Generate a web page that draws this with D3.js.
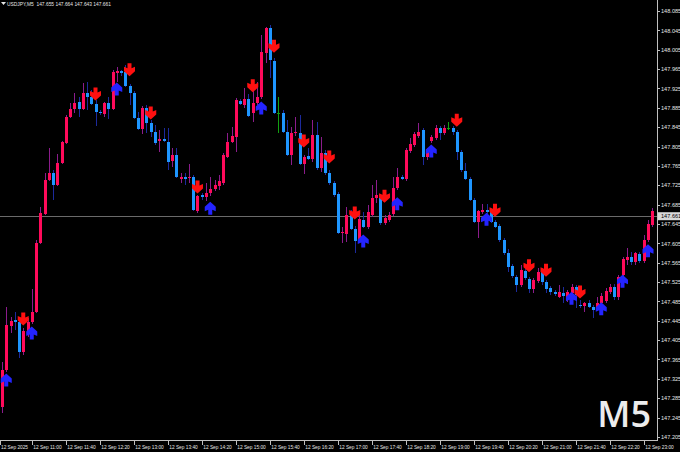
<!DOCTYPE html>
<html><head><meta charset="utf-8">
<script src="https://cdn.jsdelivr.net/npm/d3@7"></script>
<style>html,body{margin:0;padding:0;background:#000;overflow:hidden}</style>
</head><body>
<svg id="c" width="680" height="452"></svg>
<script>
const symbolInfo = "USDJPY,M5";
const headerValues = ["147.655", "147.664", "147.643", "147.661"];
const timeframe = "M5";
const bidPrice = 147.661;

const opens = [
147.267,147.343,147.434,147.446,147.442,147.380,147.422,147.442,147.463,147.606,
147.666,147.736,147.750,147.725,147.771,147.812,147.866,147.883,147.897,147.883,
147.916,147.907,147.893,147.876,147.872,147.895,147.883,147.957,147.960,147.959,
147.930,147.916,147.864,147.841,147.885,147.854,147.835,147.816,147.821,147.814,
147.775,147.787,147.738,147.742,147.740,147.742,147.672,147.705,147.701,147.709,
147.717,147.723,147.730,147.783,147.814,147.825,147.899,147.891,147.903,147.874,
147.895,147.907,147.998,148.050,147.982,147.874,147.874,147.835,147.787,147.833,
147.833,147.769,147.785,147.779,147.829,147.761,147.792,147.750,147.730,147.707,
147.626,147.624,147.664,147.635,147.610,147.653,147.639,147.664,147.699,147.699,
147.647,147.653,147.666,147.719,147.742,147.738,147.796,147.808,147.827,147.839,
147.783,147.816,147.823,147.843,147.833,147.843,147.843,147.835,147.794,147.754,
147.738,147.695,147.649,147.670,147.674,147.670,147.649,147.641,147.612,147.585,
147.558,147.535,147.519,147.548,147.531,147.511,147.527,147.546,147.525,147.513,
147.504,147.494,147.502,147.488,147.502,147.515,147.478,147.476,147.482,147.473,
147.473,147.482,147.486,147.504,147.515,147.494,147.539,147.571,147.577,147.566,
147.583,147.569,147.612,147.643];
const highs = [
147.360,147.473,147.453,147.463,147.446,147.430,147.451,147.511,147.612,147.680,
147.750,147.802,147.756,147.789,147.816,147.870,147.895,147.916,147.907,147.936,
147.938,147.922,147.901,147.880,147.897,147.907,147.963,147.969,147.963,147.973,
147.934,147.920,147.876,147.889,147.891,147.860,147.850,147.839,147.843,147.843,
147.802,147.802,147.750,147.750,147.769,147.746,147.705,147.709,147.730,147.742,
147.736,147.746,147.792,147.833,147.845,147.905,147.903,147.926,147.913,147.926,
147.938,148.035,148.052,148.056,147.988,147.907,147.880,147.860,147.845,147.866,
147.870,147.787,147.802,147.860,147.856,147.825,147.798,147.756,147.734,147.711,
147.639,147.680,147.674,147.641,147.670,147.670,147.684,147.725,147.736,147.705,
147.664,147.670,147.742,147.761,147.746,147.802,147.823,147.835,147.854,147.843,
147.802,147.829,147.849,147.847,147.849,147.856,147.847,147.839,147.798,147.771,
147.742,147.699,147.674,147.686,147.686,147.674,147.653,147.645,147.616,147.593,
147.562,147.539,147.560,147.556,147.535,147.533,147.554,147.554,147.529,147.517,
147.508,147.519,147.515,147.508,147.521,147.519,147.488,147.484,147.488,147.478,
147.494,147.502,147.513,147.521,147.521,147.539,147.577,147.595,147.587,147.587,
147.587,147.622,147.653,147.678];
const lows = [
147.254,147.339,147.420,147.426,147.368,147.374,147.411,147.438,147.461,147.604,
147.664,147.734,147.695,147.723,147.769,147.810,147.864,147.874,147.866,147.880,
147.880,147.891,147.847,147.870,147.866,147.862,147.880,147.938,147.950,147.928,
147.891,147.862,147.839,147.831,147.833,147.825,147.808,147.794,147.814,147.756,
147.763,147.740,147.730,147.725,147.730,147.672,147.667,147.695,147.692,147.703,
147.713,147.715,147.725,147.781,147.812,147.794,147.891,147.885,147.866,147.856,
147.891,147.903,147.978,147.947,147.872,147.833,147.833,147.785,147.767,147.827,
147.767,147.748,147.777,147.773,147.756,147.752,147.746,147.725,147.701,147.624,
147.606,147.608,147.632,147.585,147.606,147.637,147.635,147.659,147.688,147.643,
147.643,147.649,147.661,147.715,147.736,147.734,147.792,147.804,147.823,147.767,
147.777,147.812,147.818,147.818,147.829,147.839,147.829,147.777,147.752,147.736,
147.692,147.647,147.616,147.666,147.666,147.647,147.637,147.608,147.581,147.546,
147.533,147.504,147.515,147.529,147.502,147.502,147.523,147.519,147.502,147.498,
147.496,147.492,147.482,147.484,147.496,147.471,147.471,147.463,147.471,147.451,
147.467,147.478,147.482,147.500,147.488,147.488,147.533,147.560,147.560,147.560,
147.564,147.564,147.608,147.639];
const closes = [
147.343,147.436,147.444,147.442,147.380,147.424,147.442,147.463,147.606,147.667,
147.736,147.750,147.725,147.771,147.814,147.866,147.883,147.895,147.883,147.916,
147.907,147.893,147.876,147.874,147.895,147.883,147.959,147.960,147.957,147.930,
147.916,147.864,147.841,147.885,147.854,147.835,147.812,147.821,147.816,147.773,
147.787,147.742,147.742,147.738,147.742,147.674,147.703,147.701,147.709,147.717,
147.725,147.734,147.787,147.814,147.827,147.901,147.893,147.903,147.868,147.895,
147.907,148.000,148.050,147.984,147.874,147.874,147.835,147.787,147.833,147.835,
147.769,147.783,147.779,147.829,147.761,147.792,147.750,147.730,147.705,147.626,
147.628,147.664,147.635,147.610,147.655,147.639,147.670,147.699,147.705,147.647,
147.657,147.664,147.719,147.742,147.738,147.798,147.810,147.831,147.835,147.783,
147.798,147.825,147.843,147.833,147.843,147.843,147.835,147.794,147.756,147.738,
147.695,147.649,147.672,147.674,147.670,147.649,147.639,147.612,147.585,147.556,
147.537,147.519,147.550,147.533,147.511,147.529,147.546,147.525,147.511,147.504,
147.500,147.504,147.496,147.504,147.515,147.498,147.476,147.482,147.473,147.467,
147.482,147.496,147.506,147.515,147.494,147.535,147.573,147.577,147.566,147.585,
147.569,147.612,147.645,147.672];

const sellIdx   = [5, 22, 30, 35, 46, 59, 64, 71, 77, 83, 90, 107, 116, 124, 128, 136];
const sellPrice = [147.436,147.901,147.951,147.862,147.709,147.918,148.000,147.804,147.771,147.655,147.690,147.847,147.661,147.546,147.537,147.492];
const buyIdx    = [1, 7, 27, 49, 61, 85, 93, 101, 114, 134, 141, 146, 152];
const buyPrice  = [147.335,147.432,147.936,147.690,147.897,147.622,147.699,147.808,147.667,147.504,147.482,147.539,147.602];

const priceTicks = ["148.085","148.045","148.005","147.965","147.925","147.885","147.845","147.805",
  "147.765","147.725","147.685","147.645","147.605","147.565","147.525","147.485","147.445",
  "147.405","147.365","147.325","147.285","147.245","147.205"];
const timeTickIdx = [0,7,15,23,31,39,47,55,63,71,79,87,95,103,111,119,127,135,143,151];
const timeTickLabels = ["12 Sep 2025","12 Sep 11:00","12 Sep 11:40","12 Sep 12:20","12 Sep 13:00",
  "12 Sep 13:40","12 Sep 14:20","12 Sep 15:00","12 Sep 15:40","12 Sep 16:20","12 Sep 17:00",
  "12 Sep 17:40","12 Sep 18:20","12 Sep 19:00","12 Sep 19:40","12 Sep 20:20","12 Sep 21:00",
  "12 Sep 21:40","12 Sep 22:20","12 Sep 23:00"];

const W = 680, Hh = 452, plotR = 657, plotB = 440;
const svg = d3.select("#c");
svg.append("rect").attr("width", W).attr("height", Hh).attr("fill", "#000");

const bars = opens.map((o, i) => ({i, o, h: highs[i], l: lows[i], c: closes[i]}));
const x = d3.scaleLinear().domain([0, bars.length - 1]).range([2, 652.25]);
const y = d3.scaleLinear().domain([147.1986, 148.1077]).range([plotB, 0]);

const defs = svg.append("defs");
defs.append("clipPath").attr("id", "clip").append("rect").attr("x", 0).attr("y", 0).attr("width", plotR).attr("height", plotB);
const plot = svg.append("g").attr("clip-path", "url(#clip)");

const col = d => d.c > d.o ? "#ff0a5a" : d.c < d.o ? "#1e96ff" : "#12a012";
const wcol = d => d.c > d.o ? "#8c1c8c" : d.c < d.o ? "#1c2a9c" : "#12a012";

// bid line
plot.append("line").attr("x1", 0).attr("x2", plotR).attr("y1", Math.round(y(bidPrice)) + 0.5).attr("y2", Math.round(y(bidPrice)) + 0.5)
  .attr("stroke", "#6a6a6a").attr("stroke-width", 1).attr("shape-rendering", "crispEdges");

const g = plot.append("g").attr("shape-rendering", "crispEdges");
g.selectAll("line.w").data(bars).join("line").attr("class", "w")
  .attr("x1", d => Math.round(x(d.i)) + 0.5).attr("x2", d => Math.round(x(d.i)) + 0.5)
  .attr("y1", d => y(d.h)).attr("y2", d => y(d.l))
  .attr("stroke", wcol).attr("stroke-width", 1);
g.selectAll("rect.b").data(bars).join("rect").attr("class", "b")
  .attr("x", d => Math.round(x(d.i)) - 1).attr("width", 3)
  .attr("y", d => y(Math.max(d.o, d.c)))
  .attr("height", d => Math.max(1, Math.abs(y(d.o) - y(d.c))))
  .attr("fill", col);

const downPath = "M-2,-12.5H2V-7.5L5.5,-9V-4.5L0,0.5L-5.5,-4.5V-9L-2,-7.5Z";
const upPath = "M-2,12.5H2V7.5L5.5,9V4.5L0,-0.5L-5.5,4.5V9L-2,7.5Z";
plot.selectAll("path.s").data(sellIdx.map((k, j) => ({k, p: sellPrice[j]}))).join("path").attr("class", "s")
  .attr("d", downPath).attr("transform", d => `translate(${x(d.k)},${y(d.p)})`).attr("fill", "#ff1010");
plot.selectAll("path.u").data(buyIdx.map((k, j) => ({k, p: buyPrice[j]}))).join("path").attr("class", "u")
  .attr("d", upPath).attr("transform", d => `translate(${x(d.k)},${y(d.p)})`).attr("fill", "#2424ff");

// watermark
svg.append("text").attr("x", 651).attr("y", 427).attr("text-anchor", "end")
  .attr("font-family", "Open Sans, Liberation Sans, sans-serif").attr("font-weight", 600).attr("font-size", 36)
  .attr("fill", "#ececec").text(timeframe);

// frame
const fr = svg.append("g").attr("shape-rendering", "crispEdges").attr("stroke", "#c0c0c0");
fr.append("line").attr("x1", plotR + 0.5).attr("x2", plotR + 0.5).attr("y1", 0).attr("y2", plotB + 1);
fr.append("line").attr("x1", 0).attr("x2", plotR + 1).attr("y1", plotB + 0.5).attr("y2", plotB + 0.5);

const font = "Liberation Sans, Arial, sans-serif";
// price axis
const pa = svg.append("g");
pa.selectAll("line").data(priceTicks).join("line")
  .attr("x1", plotR).attr("x2", plotR + 3).attr("y1", d => Math.round(y(+d)) + 0.5).attr("y2", d => Math.round(y(+d)) + 0.5)
  .attr("stroke", "#c0c0c0").attr("shape-rendering", "crispEdges");
pa.selectAll("text").data(priceTicks).join("text")
  .attr("x", plotR + 4).attr("y", d => y(+d) + 2.2).attr("font-family", font).attr("font-size", 5.6)
  .attr("fill", "#e6e6e6").text(d => d);

// bid label
const by = y(bidPrice);
svg.append("rect").attr("x", plotR + 1).attr("y", by - 4).attr("width", 22).attr("height", 8).attr("fill", "#d8d8d8");
svg.append("text").attr("x", plotR + 4).attr("y", by + 2.2).attr("font-family", font).attr("font-size", 5.6)
  .attr("fill", "#000").text(bidPrice.toFixed(3));

// time axis
const ta = svg.append("g");
ta.selectAll("line").data(timeTickIdx).join("line")
  .attr("x1", (d, j) => j === 0 ? 0.5 : Math.round(x(d)) + 0.5).attr("x2", (d, j) => j === 0 ? 0.5 : Math.round(x(d)) + 0.5)
  .attr("y1", plotB).attr("y2", plotB + 5).attr("stroke", "#c0c0c0").attr("shape-rendering", "crispEdges");
ta.selectAll("text").data(timeTickIdx).join("text")
  .attr("x", (d, j) => j === 0 ? 1 : x(d) + 1.5).attr("y", plotB + 8.5)
  .attr("font-family", font).attr("font-size", 5.4).attr("fill", "#e6e6e6")
  .attr("textLength", (d, j) => j === 0 ? 27 : 28.5).attr("lengthAdjust", "spacingAndGlyphs")
  .text((d, j) => timeTickLabels[j]);

// header
svg.append("path").attr("d", "M1,2H6L3.5,5Z").attr("fill", "#e6e6e6");
svg.append("text").attr("x", 7).attr("y", 5.8).attr("font-family", font).attr("font-size", 5.4)
  .attr("fill", "#e6e6e6").attr("xml:space", "preserve")
  .attr("textLength", 104).attr("lengthAdjust", "spacingAndGlyphs")
  .text(symbolInfo + "  " + headerValues.join(" "));
</script>
</body></html>
